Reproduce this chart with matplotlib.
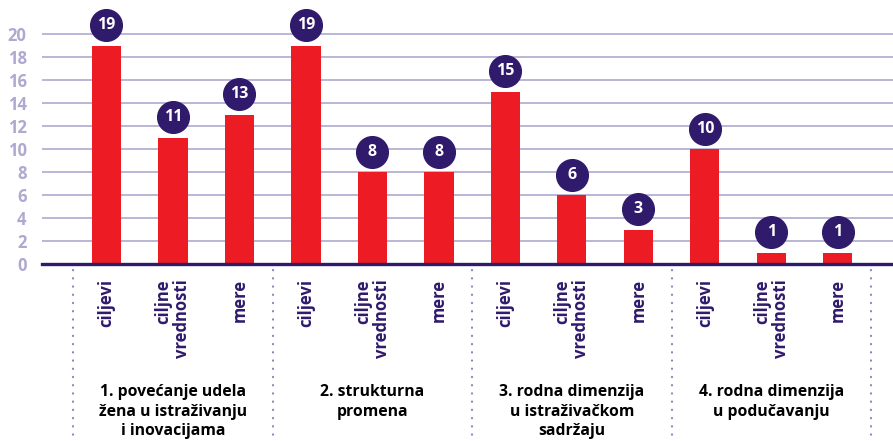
import matplotlib.pyplot as plt
import matplotlib.transforms as mtransforms

# podaci
grupe = ["1. povećanje udela\nžena u istraživanju\ni inovacijama",
         "2. strukturna\npromena",
         "3. rodna dimenzija\nu istraživačkom\nsadržaju",
         "4. rodna dimenzija\nu podučavanju"]
kategorije = ["ciljevi", "ciljne\nvrednosti", "mere"]
vrednosti = [19, 11, 13, 19, 8, 8, 15, 6, 3, 10, 1, 1]
y_ticks = [0, 2, 4, 6, 8, 10, 12, 14, 16, 18, 20]

crvena = "#ed1c24"
ljubicasta = "#2f1a6b"
lavanda = "#aea9d0"
font = ["Open Sans", "DejaVu Sans"]
plt.rcParams["font.family"] = font

fig = plt.figure(figsize=(8.93, 4.41), dpi=100)
ax = fig.add_axes([0.047, 1 - 264 / 441, 0.953, 253 / 441])

x = list(range(len(vrednosti)))
ax.bar(x, vrednosti, width=0.44, color=crvena, zorder=3)

# krugovi sa brojevima
ax.scatter(x, [v + 1.75 for v in vrednosti], s=520, color=ljubicasta, zorder=4, clip_on=False)
for xi, v in zip(x, vrednosti):
    ax.text(xi, v + 1.75, str(v), color="white", fontsize=11.5, fontweight="bold",
            ha="center", va="center", zorder=5)

ax.set_xlim(-0.97, 11.83)
ax.set_ylim(0, 22)
ax.set_yticks(y_ticks)
ax.set_yticklabels([str(t) for t in y_ticks], color=lavanda, fontsize=12, fontweight="bold")
ax.tick_params(axis="y", length=0, pad=11)
ax.set_xticks([])
for t in y_ticks[1:]:
    ax.axhline(t, color=lavanda, lw=1.2, zorder=1)
ax.axhline(0, color=ljubicasta, lw=2.4, zorder=6, clip_on=False)
for s in ax.spines.values():
    s.set_visible(False)

trans = mtransforms.blended_transform_factory(ax.transData, fig.transFigure)

# nazivi kategorija
for i, xi in enumerate(x):
    ax.text(xi, 1 - 279 / 441, kategorije[i % 3], transform=trans, rotation=90,
            ha="center", va="top", multialignment="right", color=ljubicasta,
            fontsize=12, fontweight="bold", linespacing=1.05)

# nazivi grupa
for g, naziv in enumerate(grupe):
    ax.text(g * 3 + 1, 1 - 384 / 441, naziv, transform=trans, ha="center", va="top",
            color="black", fontsize=11.3, fontweight="bold", linespacing=1.3)

# isprekidane linije izmedju grupa
for g in range(5):
    ax.plot([g * 3 - 0.5, g * 3 - 0.5], [1 - 270 / 441, 0], transform=trans,
            color="#8d84c2", lw=1.6, linestyle=(0, (0.1, 3.6)), dash_capstyle="round",
            clip_on=False)

fig.savefig("out.png", dpi=100)
